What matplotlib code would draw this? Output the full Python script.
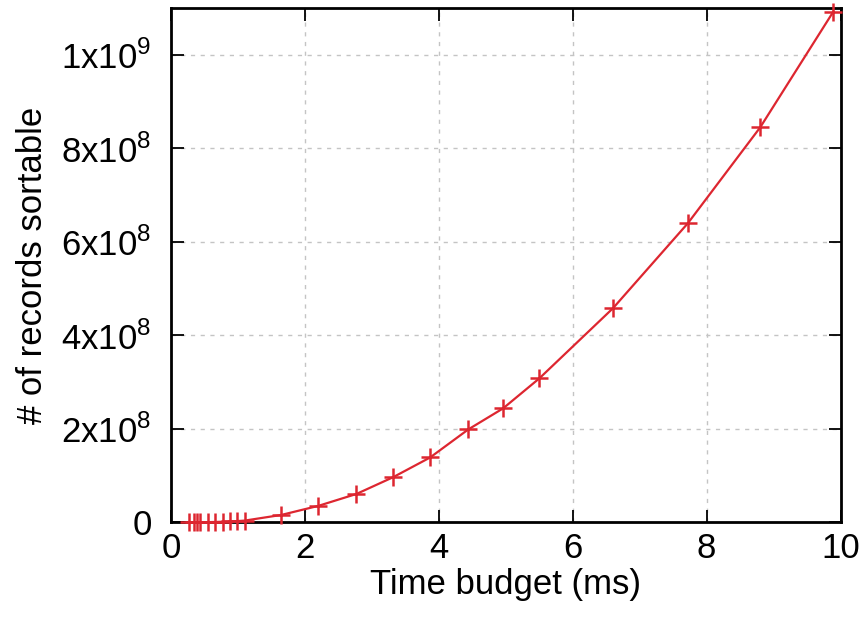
import matplotlib
matplotlib.use('Agg')
from matplotlib import pyplot as plt
from matplotlib.ticker import FuncFormatter

plt.rcParams['font.family'] = ['Liberation Sans', 'DejaVu Sans']
plt.rcParams['font.size'] = 25
plt.rcParams['mathtext.fontset'] = 'custom'
plt.rcParams['mathtext.rm'] = 'Liberation Sans'

########################################
# Data
########################################
time_ms = [0.27, 0.34, 0.39, 0.44, 0.55, 0.66, 0.77, 0.88, 0.99, 1.1,
           1.65, 2.2, 2.77, 3.32, 3.87, 4.44, 4.96, 5.5, 6.6, 7.72, 8.8, 9.89]
records = [1e5, 2e5, 3e5, 4e5, 7e5, 1.1e6, 1.6e6, 2.2e6, 3.0e6, 4.0e6,
           1.62e7, 3.55e7, 6.1e7, 9.7e7, 1.39e8, 1.99e8, 2.44e8, 3.08e8,
           4.58e8, 6.4e8, 8.45e8, 1.092e9]

xticks = [0, 2, 4, 6, 8, 10]
yticks = [0, 2e8, 4e8, 6e8, 8e8, 1e9]


def sci_label(v, pos):
    if v == 0:
        return '0'
    exp = 0
    m = v
    while m >= 10:
        m /= 10.0
        exp += 1
    return '%dx10$^\\mathregular{%d}$' % (round(m), exp)


fig = plt.figure(figsize=(8.68, 6.22), dpi=100)
ax = fig.add_axes([0.197, 0.16, 0.7714, 0.827])

ax.plot(time_ms, records, color='#dd2630', lw=1.6, marker='+',
        markersize=13, markeredgewidth=1.8, clip_on=False, zorder=3)

ax.set_xlim(0, 10)
ax.set_ylim(0, 1.1e9)
ax.set_xticks(xticks)
ax.set_yticks(yticks)
ax.yaxis.set_major_formatter(FuncFormatter(sci_label))

ax.grid(True, color='#c4c4c4', ls=(0, (3, 4)), lw=1.0)
ax.tick_params(direction='in', length=9, width=1.3, top=True, right=True,
               labelsize=25)
ax.tick_params(axis='x', pad=7)
ax.tick_params(axis='y', pad=14)
for s in ax.spines.values():
    s.set_linewidth(2)

ax.set_xlabel('Time budget (ms)', labelpad=2)
ax.set_ylabel('# of records sortable', labelpad=9)

fig.savefig('out.png', dpi=100)
